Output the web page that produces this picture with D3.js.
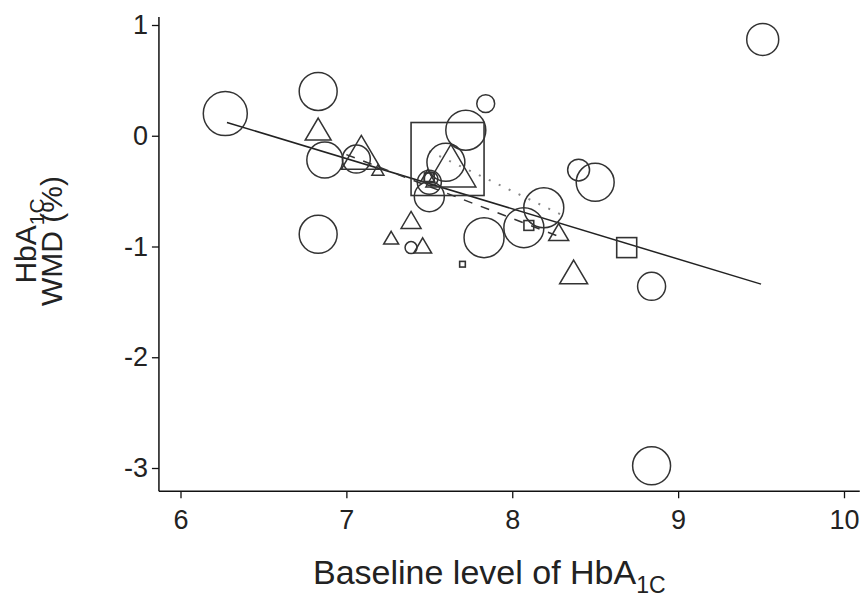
<!DOCTYPE html>
<html><head><meta charset="utf-8">
<script src="https://cdn.jsdelivr.net/npm/d3@7"></script>
<style>
body{margin:0;background:#fff}
text{font-family:"Liberation Sans",Arial,Helvetica,sans-serif;fill:#222}
</style>
</head><body>
<svg id="chart" width="863" height="597"></svg>
<script>
// ---- data ----
const xTicks = [6, 7, 8, 9, 10];
const yTicks = [1, 0, -1, -2, -3];

// circles: baseline HbA1c, WMD, relative weight
const circleX = [6.27, 6.83, 6.87, 7.06, 6.83, 7.72, 7.84, 7.60, 7.50, 7.50, 7.51, 8.40, 8.50, 8.19, 8.07, 7.83, 7.39, 8.84, 9.51, 8.84];
const circleY = [0.20, 0.40, -0.22, -0.21, -0.89, 0.05, 0.29, -0.24, -0.55, -0.42, -0.39, -0.31, -0.42, -0.65, -0.83, -0.92, -1.01, -1.36, 0.87, -2.98];
const circleW = [121, 90, 81, 49, 90, 100, 20, 90, 56, 36, 12, 30, 90, 100, 100, 100, 9, 49, 64, 90];

// triangles
const triX = [6.83, 7.09, 7.63, 7.49, 7.19, 8.28, 8.37, 7.39, 7.27, 7.46];
const triY = [0.06, -0.15, -0.27, -0.36, -0.31, -0.87, -1.23, -0.76, -0.92, -0.99];
const triW = [42, 100, 156, 12, 9, 25, 49, 25, 14, 20];

// squares
const sqX = [7.61, 7.50, 8.10, 8.69, 7.70];
const sqY = [-0.21, -0.38, -0.81, -1.01, -1.16];
const sqW = [333, 6, 6, 25, 2];

// regression lines
const solidX = [6.28, 9.50], solidY = [0.12, -1.34];
const dashX = [7.00, 8.30], dashY = [-0.17, -0.92];
const dotX = [7.50, 8.32], dotY = [-0.14, -0.73];

// axis extents
const xDomain = [6, 10], yDomain = [-3, 1];
const xAxisExt = [5.87, 10.095], yAxisExt = [-3.21, 1.072];

// ---- drawing ----
const svg = d3.select("#chart");
const x = d3.scaleLinear().domain(xDomain).range([180.5, 844]);
const y = d3.scaleLinear().domain(yDomain).range([468, 25]);
const size = d3.scaleSqrt().domain([0, 100]).range([0, 20]);

const ink = "#333";

// axes
const gx = svg.append("g").attr("transform", `translate(0,${y(yAxisExt[0])})`)
  .call(d3.axisBottom(x).tickValues(xTicks).tickSize(7).tickSizeOuter(0).tickFormat(d => String(d)));
gx.select(".domain").remove();
gx.selectAll(".tick line").attr("stroke", "#111").attr("stroke-width", 1.3);
gx.selectAll(".tick text").attr("font-size", 27).attr("y", 12).attr("dy", "0.95em");
svg.append("line").attr("x1", x(xAxisExt[0])).attr("x2", x(xAxisExt[1]))
  .attr("y1", y(yAxisExt[0])).attr("y2", y(yAxisExt[0])).attr("stroke", "#111").attr("stroke-width", 1.5);

const gy = svg.append("g").attr("transform", `translate(${x(xAxisExt[0])},0)`)
  .call(d3.axisLeft(y).tickValues(yTicks).tickSize(7).tickSizeOuter(0).tickFormat(d => String(d)));
gy.select(".domain").remove();
gy.selectAll(".tick line").attr("stroke", "#111").attr("stroke-width", 1.3);
gy.selectAll(".tick text").attr("font-size", 27).attr("x", -11);
svg.append("line").attr("x1", x(xAxisExt[0])).attr("x2", x(xAxisExt[0]))
  .attr("y1", y(yAxisExt[0])).attr("y2", y(yAxisExt[1])).attr("stroke", "#111").attr("stroke-width", 1.5);

// axis titles
const xt = svg.append("text").attr("x", 313).attr("y", 584)
  .attr("text-anchor", "start").attr("font-size", 34);
xt.append("tspan").text("Baseline level of HbA");
xt.append("tspan").attr("font-size", 23).attr("dy", 9).text("1C");

const yt = svg.append("g").attr("transform", `translate(0,${y(-0.95)}) rotate(-90)`);
const yt1 = yt.append("text").attr("x", 0).attr("y", 36).attr("text-anchor", "middle").attr("font-size", 30);
yt1.append("tspan").text("HbA");
yt1.append("tspan").attr("font-size", 21).attr("dy", 8).text("1C");
yt.append("text").attr("x", 0).attr("y", 62).attr("text-anchor", "middle").attr("font-size", 30).text("WMD (%)");

// lines
const line = d3.line().x(d => x(d[0])).y(d => y(d[1]));
svg.append("path").datum(d3.zip(solidX, solidY)).attr("d", line)
  .attr("fill", "none").attr("stroke", "#222").attr("stroke-width", 1.5);
svg.append("path").datum(d3.zip(dashX, dashY)).attr("d", line)
  .attr("fill", "none").attr("stroke", "#333").attr("stroke-width", 1.5).attr("stroke-dasharray", "9,9");
svg.append("path").datum(d3.zip(dotX, dotY)).attr("d", line)
  .attr("fill", "none").attr("stroke", "#888").attr("stroke-width", 2).attr("stroke-dasharray", "2,9");

// markers
const circles = d3.zip(circleX, circleY, circleW);
svg.append("g").selectAll("circle").data(circles).join("circle")
  .attr("cx", d => x(d[0])).attr("cy", d => y(d[1])).attr("r", d => size(d[2]))
  .attr("fill", "none").attr("stroke", ink).attr("stroke-width", 1.5);

const tris = d3.zip(triX, triY, triW);
svg.append("g").selectAll("path").data(tris).join("path")
  .attr("d", d => {
    const cx = x(d[0]), cy = y(d[1]), hw = size(d[2]), h = hw * 2 * 0.85;
    return `M${cx},${cy - h / 2}L${cx + hw},${cy + h / 2}L${cx - hw},${cy + h / 2}Z`;
  })
  .attr("fill", "none").attr("stroke", ink).attr("stroke-width", 1.5).attr("stroke-linejoin", "miter");

const sqs = d3.zip(sqX, sqY, sqW);
svg.append("g").selectAll("rect").data(sqs).join("rect")
  .attr("x", d => x(d[0]) - size(d[2])).attr("y", d => y(d[1]) - size(d[2]))
  .attr("width", d => 2 * size(d[2])).attr("height", d => 2 * size(d[2]))
  .attr("fill", "none").attr("stroke", ink).attr("stroke-width", 1.6);
</script>
</body></html>
